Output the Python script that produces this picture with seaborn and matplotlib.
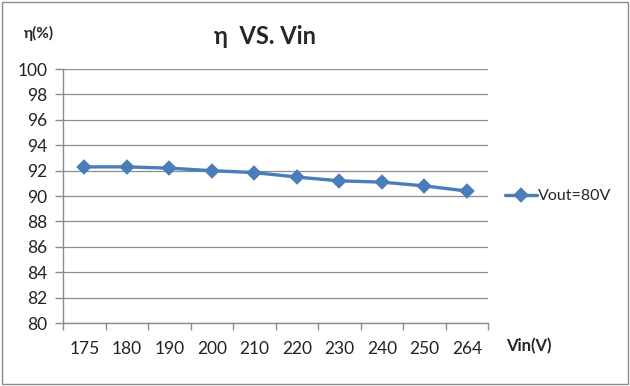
import numpy as np
import pandas as pd
import seaborn as sns
import matplotlib.pyplot as plt
from matplotlib.patches import Rectangle

# Chart data
vin_labels = ['175', '180', '190', '200', '210', '220', '230', '240', '250', '264']
efficiency = [92.3, 92.3, 92.2, 92.0, 91.85, 91.5, 91.2, 91.1, 90.8, 90.4]
series_name = 'Vout=80V'

df = pd.DataFrame({'Vin': vin_labels, 'eta': efficiency})

sns.set_style('white')
plt.rcParams['font.family'] = ['Lato', 'DejaVu Sans']

fig = plt.figure(figsize=(6.3, 3.86), dpi=100)
ax = fig.add_axes([0.1, 0.163, 0.675, 0.658])

blue = '#4a7ebb'
sns.pointplot(data=df, x='Vin', y='eta', order=vin_labels, color=blue,
              marker='D', markersize=6.5, linewidth=2.4, ax=ax, label=series_name)

ax.set_ylim(80, 100)
ax.set_yticks(np.arange(80, 101, 2))
ax.set_xlim(-0.5, len(vin_labels) - 0.5)
ax.set_xticks(range(len(vin_labels)))
ax.set_xticklabels(vin_labels)
ax.set_xticks(np.arange(-0.5, len(vin_labels), 1), minor=True)
ax.tick_params(axis='x', which='major', length=0, pad=13, labelsize=12.5, colors='#222222')
ax.tick_params(axis='x', which='minor', length=5, width=1, color='#8c8c8c', bottom=True)
ax.tick_params(axis='y', length=6, width=1, color='#8c8c8c', left=True, labelsize=12.5,
               colors='#222222', pad=5)
for lbl in ax.get_yticklabels():
    lbl.set_color('#222222')
ax.yaxis.grid(True, color='#8c8c8c', linewidth=0.9)
ax.xaxis.grid(False)
ax.set_xlabel('')
ax.set_ylabel('')
for side in ['top', 'right']:
    ax.spines[side].set_visible(False)
for side in ['left', 'bottom']:
    ax.spines[side].set_color('#8c8c8c')
    ax.spines[side].set_linewidth(1)

leg = ax.legend(loc='center left', bbox_to_anchor=(1.005, 0.5), frameon=False,
                fontsize=11.5, handlelength=2.0, handletextpad=0.1)

fig.text(0.42, 0.905, 'η  VS. Vin', ha='center', va='center', fontsize=17, fontweight='bold')
fig.text(0.061, 0.912, 'η(%)', ha='center', va='center', fontsize=11, fontweight='bold')
fig.text(0.84, 0.103, 'Vin(V)', ha='center', va='center', fontsize=12, fontweight='bold')

# outer chart border
fig.patches.append(Rectangle((0.003, 0.005), 0.994, 0.99, transform=fig.transFigure,
                             fill=False, edgecolor='#8c8c8c', linewidth=1))

fig.savefig('out.png', dpi=100)
